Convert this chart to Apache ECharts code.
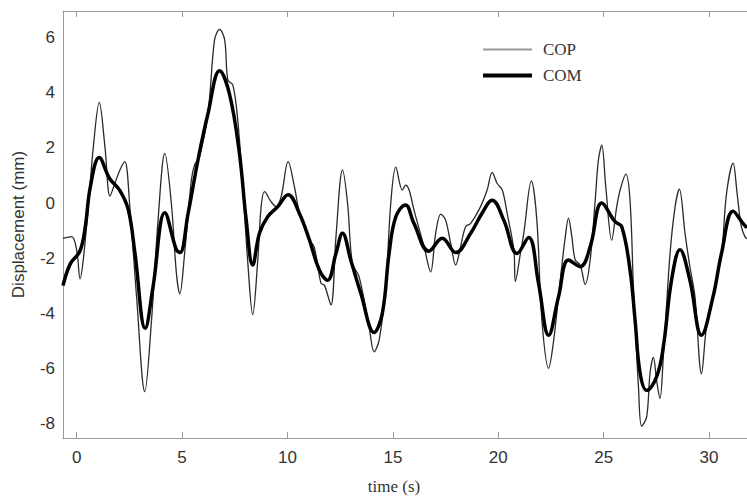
<!DOCTYPE html>
<html>
<head>
<meta charset="utf-8">
<script src="https://cdn.jsdelivr.net/npm/echarts@6/dist/echarts.min.js"></script>
<style>
html,body{margin:0;padding:0;background:#fff;}
#chart{width:747px;height:502px;}
</style>
</head>
<body>
<div id="chart"></div>
<script>
// Time (s) and displacement (mm)
var copTime = [-0.65,-0.24,0.0,0.16,0.31,0.55,0.79,1.07,1.34,1.58,1.81,2.05,2.28,2.52,2.84,3.23,3.55,3.86,4.18,4.49,4.73,4.89,5.12,5.44,5.6,5.8,6.23,6.54,6.78,7.02,7.17,7.41,7.64,7.88,8.12,8.35,8.59,8.75,8.91,9.22,9.46,9.70,10.03,10.33,10.56,11.04,11.27,11.59,11.75,12.06,12.3,12.61,12.85,13.08,13.4,13.87,14.11,14.35,14.66,14.9,15.14,15.45,15.61,15.77,16.0,16.48,16.79,17.03,17.27,17.5,17.74,17.98,18.21,18.45,18.69,19.16,19.47,19.71,19.95,20.19,20.42,20.74,20.81,21.05,21.21,21.57,21.83,22.07,22.39,22.63,22.94,23.18,23.33,23.49,23.65,23.89,24.12,24.36,24.6,24.75,24.91,25.1,25.38,25.62,25.78,26.05,26.25,26.41,26.49,26.65,26.8,27.04,27.2,27.36,27.51,27.67,27.83,28.15,28.39,28.59,28.86,29.09,29.33,29.64,29.88,30.19,30.59,30.83,31.14,31.33,31.53,31.7,31.8];
var copDisp = [-1.28,-1.22,-1.71,-2.75,-2.07,-0.13,2.04,3.65,2.04,0.25,0.71,1.2,1.5,-0.13,-3.4,-6.85,-4.25,-0.62,1.8,-0.01,-2.55,-3.3,-1.83,0.84,1.4,1.6,3.26,5.92,6.3,5.92,4.47,4.28,3.01,0.59,-2.19,-4.05,-2.07,-0.13,0.41,0.05,-0.13,0.23,1.5,0.59,-0.31,-1.34,-1.6,-2.92,-2.98,-3.7,-1.22,1.2,-0.01,-2.19,-2.68,-4.49,-5.4,-4.97,-3.04,-0.01,1.3,0.47,0.65,0.47,-0.25,-1.59,-2.5,-1.1,-0.4,-0.62,-1.46,-2.25,-1.59,-0.86,-0.74,-0.13,0.47,1.1,0.71,0.47,-0.37,-1.71,-2.85,-1.83,-1.1,0.8,-0.62,-4.25,-6.0,-4.97,-2.8,-1.22,-0.55,-1.22,-2.07,-2.25,-2.95,-2.07,0.11,1.56,2.1,0.59,-1.35,-0.13,0.47,1.05,0.11,-3.04,-4.25,-6.67,-8.1,-7.76,-6.18,-5.6,-6.43,-7.1,-5.58,-1.83,-0.13,0.5,-1.1,-2.31,-3.4,-6.2,-4.49,-3.4,-1.83,0.35,1.45,0.35,-0.86,-1.22,-1.3];

var comTime = [-0.65,-0.3,0.15,0.4,0.65,1.07,1.55,2.05,2.45,2.76,3.25,3.62,4.18,4.73,4.9,5.28,5.75,6.23,6.78,7.25,7.72,8.04,8.35,8.67,9.06,9.54,10.03,10.56,11.04,11.51,11.9,12.3,12.61,13.0,13.48,14.11,14.5,14.82,15.14,15.6,16.0,16.71,17.34,17.98,18.69,19.23,19.71,20.26,20.89,21.44,21.91,22.39,22.86,23.33,23.89,24.36,24.91,25.54,25.86,26.25,26.49,26.73,27.04,27.51,27.83,28.22,28.62,29.09,29.64,30.19,30.59,31.14,31.61,31.8];
var comDisp = [-3.0,-2.2,-1.75,-0.9,0.6,1.65,0.9,0.45,-0.25,-1.8,-4.55,-3.05,-0.35,-1.7,-1.8,-0.4,1.55,3.25,4.8,3.95,1.8,-0.6,-2.25,-1.1,-0.5,-0.13,0.3,-0.37,-1.34,-2.43,-2.8,-1.83,-1.1,-2.07,-3.28,-4.7,-4.0,-1.83,-0.5,-0.07,-0.74,-1.75,-1.28,-1.8,-1.1,-0.37,0.1,-0.62,-1.83,-1.25,-2.92,-4.8,-3.4,-2.07,-2.31,-1.59,0.0,-0.68,-0.86,-2.43,-4.25,-6.18,-6.8,-6.31,-5.22,-2.8,-1.7,-2.8,-4.8,-3.4,-1.83,-0.3,-0.74,-0.9];

var xTicks = [0,5,10,15,20,25,30];
var yTicks = [-8,-6,-4,-2,0,2,4,6];

function pairs(xs, ys){ var out=[]; for(var i=0;i<xs.length;i++){ out.push([xs[i], ys[i]]); } return out; }

var chart = echarts.init(document.getElementById('chart'), null, {renderer:'svg'});
var axisGray = '#9a9a9a';
var sans = 'Liberation Sans';
var serif = 'Liberation Serif';
var option = {
  animation:false,
  backgroundColor:'#ffffff',
  grid:{left:63, top:11, right:-2, bottom:64, containLabel:false},
  legend:{
    orient:'vertical', left:481, top:41, padding:0, itemWidth:49, itemHeight:17, itemGap:9,
    textStyle:{fontFamily:serif, fontSize:17, color:'#333', padding:[0,0,0,6]},
    data:[
      {name:'COP', lineStyle:{color:'#999', width:2}, itemStyle:{opacity:0}},
      {name:'COM', lineStyle:{color:'#000', width:4}, itemStyle:{opacity:0}}
    ]
  },
  xAxis:[{
    type:'value', min:-0.65, max:31.8, position:'bottom',
    name:'time (s)', nameLocation:'middle', nameGap:40,
    nameTextStyle:{fontFamily:serif, fontSize:17, color:'#333', padding:[0,22,0,0]},
    axisLine:{show:true, onZero:false, lineStyle:{color:axisGray, width:1}},
    axisTick:{show:true, inside:true, length:6, customValues:xTicks, lineStyle:{color:axisGray}},
    axisLabel:{show:true, customValues:xTicks, margin:11, fontFamily:sans, fontSize:17, color:'#333'},
    splitLine:{show:false}
  },{
    type:'value', min:-0.65, max:31.8, position:'top',
    axisLine:{show:true, onZero:false, lineStyle:{color:axisGray, width:1}},
    axisTick:{show:true, inside:true, length:6, customValues:xTicks, lineStyle:{color:axisGray}},
    axisLabel:{show:false},
    splitLine:{show:false}
  }],
  yAxis:{
    type:'value', min:-8.53, max:6.97, position:'left',
    name:'Displacement (mm)', nameLocation:'middle', nameGap:36, nameRotate:90,
    nameTextStyle:{fontFamily:sans, fontSize:17, color:'#333'},
    axisLine:{show:true, onZero:false, lineStyle:{color:axisGray, width:1}},
    axisTick:{show:false},
    axisLabel:{show:true, customValues:yTicks, margin:8, fontFamily:sans, fontSize:17, color:'#333'},
    splitLine:{show:false}
  },
  series:[
    {name:'COP', type:'line', xAxisIndex:0, data:pairs(copTime, copDisp), smooth:0.35,
     showSymbol:false, symbol:'none', lineStyle:{color:'#2a2a2a', width:1.3}, itemStyle:{color:'#2a2a2a'}},
    {name:'COM', type:'line', xAxisIndex:0, data:pairs(comTime, comDisp), smooth:0.4,
     showSymbol:false, symbol:'none', lineStyle:{color:'#000', width:3.5}, itemStyle:{color:'#000'}}
  ]
};
chart.setOption(option);
</script>
</body>
</html>
